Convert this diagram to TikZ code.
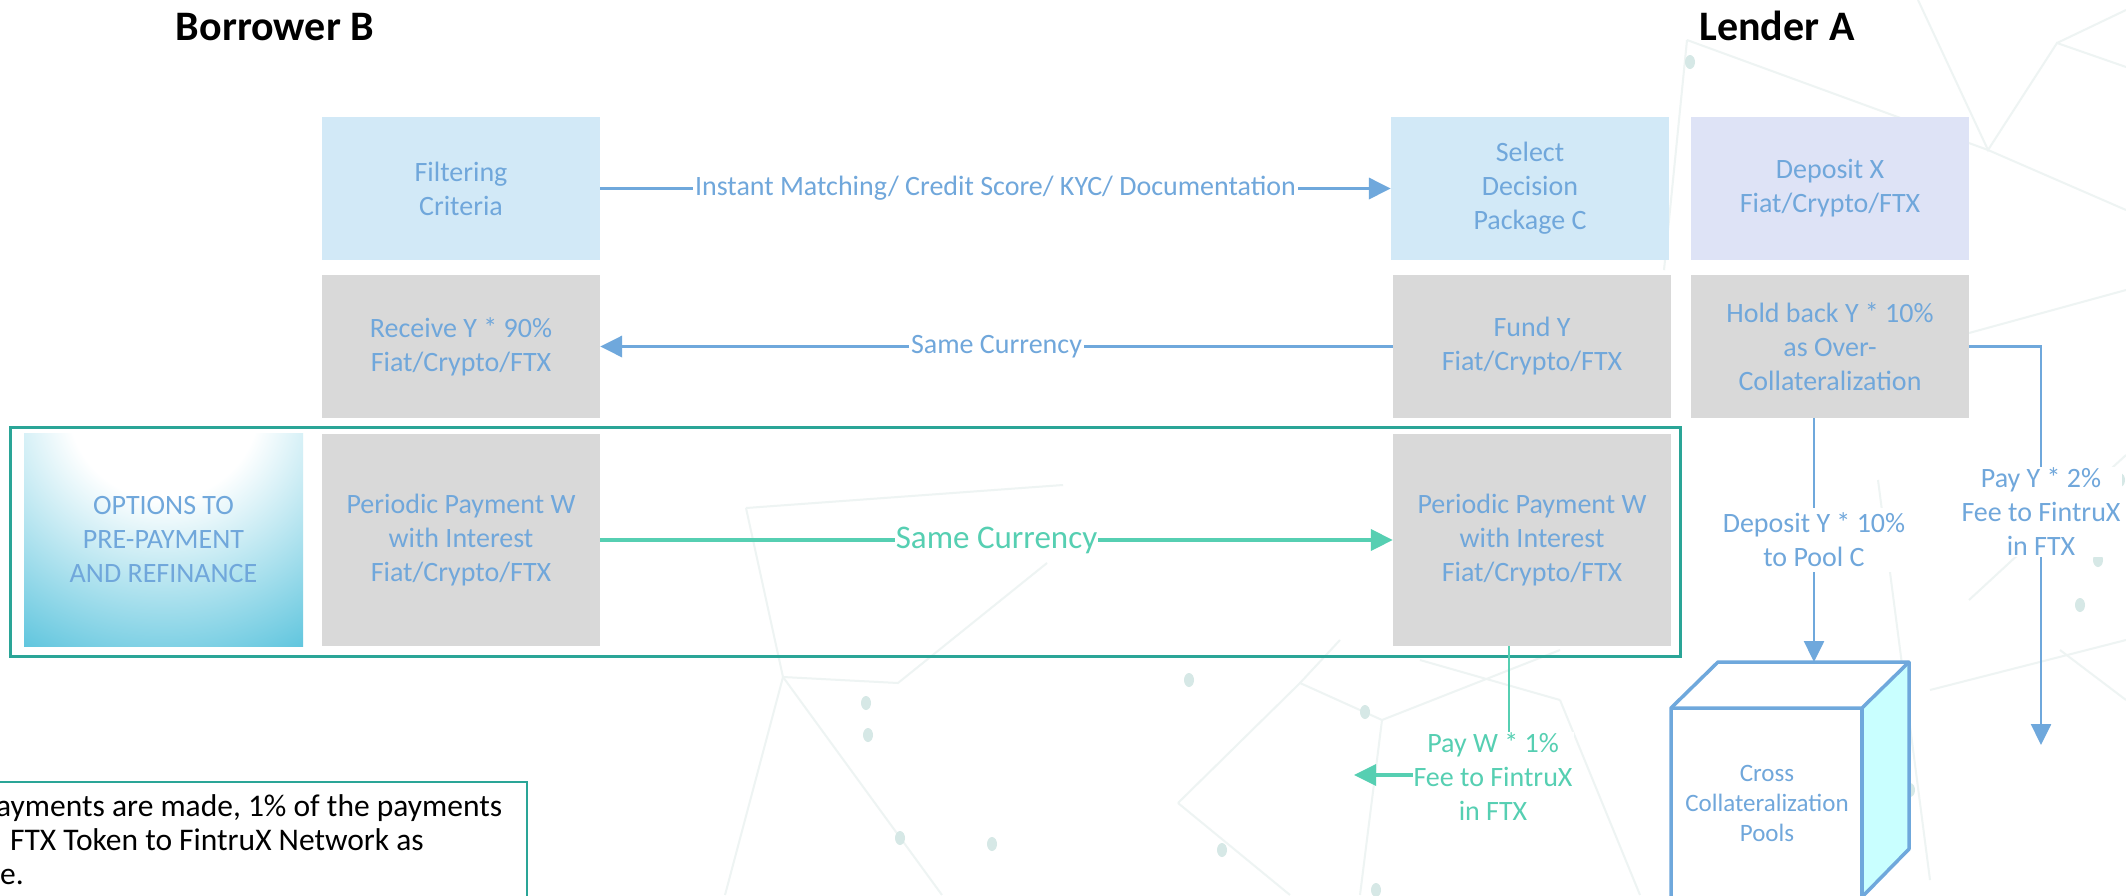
\documentclass[tikz,border=0pt]{standalone}
\usepackage{fontspec}
\setmainfont{Carlito}
\usetikzlibrary{arrows.meta}
\definecolor{txtblue}{RGB}{112,167,219}
\definecolor{lnblue}{RGB}{111,168,220}
\definecolor{grn}{RGB}{86,207,178}
\definecolor{bordteal}{RGB}{42,165,151}
\definecolor{fillblue}{RGB}{210,233,247}
\definecolor{filllav}{RGB}{222,227,246}
\definecolor{fillgray}{RGB}{217,217,217}
\definecolor{optblue}{RGB}{92,196,221}
\definecolor{cubeside}{RGB}{201,255,255}
\definecolor{netline}{RGB}{238,244,243}
\definecolor{netdot}{RGB}{214,232,230}
\pgfdeclareradialshading{optshade}{\pgfpoint{0bp}{0bp}}{color(0bp)=(white); color(95bp)=(white); color(285bp)=(optblue); color(300bp)=(optblue)}
\newcommand{\fsz}[2]{\fontsize{#1}{#2}\selectfont}
\tikzset{
  box/.style={minimum width=278pt, minimum height=143pt, inner sep=0pt, align=center, text=txtblue, font=\fsz{28}{34}},
  tallbox/.style={box, minimum height=212pt},
  title/.style={font=\fsz{42}{50}\bfseries, anchor=base},
  lbl/.style={fill=white, inner sep=2pt, align=center, text=txtblue, font=\fsz{28}{34}},
  glbl/.style={lbl, text=grn},
  bline/.style={draw=lnblue, line width=3.5pt, -{Triangle[length=22pt,width=21pt]}},
  bvline/.style={draw=lnblue, line width=2.5pt, -{Triangle[length=21pt,width=20pt]}},
  gline/.style={draw=grn, line width=4pt, -{Triangle[length=22pt,width=21pt]}},
  gvline/.style={draw=grn, line width=2.5pt},
  net/.style={draw=netline, line width=2pt},
  netdotstyle/.style={fill=netdot, draw=none},
  note/.style={anchor=base west, inner sep=0pt, font=\fsz{31.5}{34}, text=black}
}
\begin{document}
\begin{tikzpicture}[x=1pt,y=-1pt]
\useasboundingbox (0,0) rectangle (2126,895);
\fill[white] (0,0) rectangle (2126,895);
% faint background network
\draw[net] (1687,40)--(1988,150)--(2126,210);
\draw[net] (1918,0)--(1988,150)--(2057,43)--(2126,67);
\draw[net] (2057,43)--(2126,10);
\draw[net] (1687,40)--(1664,270);
\draw[net] (1969,333)--(2126,290);
\draw[net] (1969,600)--(2126,455);
\draw[net] (2060,650)--(2126,700);
\draw[net] (746,508)--(1063,485);
\draw[net] (746,508)--(783,677)--(898,683)--(1047,563);
\draw[net] (783,677)--(725,895);
\draw[net] (783,677)--(942,895);
\draw[net] (1178,803)--(1300,683)--(1382,720)--(1560,650);
\draw[net] (1178,803)--(1290,895);
\draw[net] (1382,720)--(1360,895);
\draw[net] (1300,683)--(1340,640);
\draw[net] (1420,660)--(1560,700);
\draw[net] (1560,700)--(1640,895);
\draw[net] (1878,480)--(1930,880);
\draw[net] (1930,690)--(2126,640);
\foreach \p in {(866,703),(868,735),(900,838),(992,844),(1189,680),(1222,850),(1365,712),(1376,890),(1545,800),(1910,790),(2080,605),(1690,62),(2098,560),(2120,480)}
  \fill[netdotstyle] \p ellipse (5pt and 7pt);
% titles
\node[title] (borrower) at (275,40) {Borrower B};
\node[title] (lender) at (1777,40) {Lender A};
% boxes
\node[box, fill=fillblue] (filt) at (461,188.5) {Filtering\\Criteria};
\node[box, fill=fillblue] (sel) at (1530,188.5) {Select\\Decision\\Package C};
\node[box, fill=filllav] (dep) at (1830,188.5) {Deposit X\\Fiat/Crypto/FTX};
\node[box, fill=fillgray] (recv) at (461,346.5) {Receive Y * 90\%\\Fiat/Crypto/FTX};
\node[box, fill=fillgray] (fund) at (1532,346.5) {Fund Y\\Fiat/Crypto/FTX};
\node[box, fill=fillgray] (hold) at (1830,346.5) {Hold back Y * 10\%\\as Over-\\Collateralization};
\node[tallbox, minimum width=279pt, minimum height=213pt, path picture={\node[inner sep=0pt, outer sep=0pt] (optbg) at ([yshift=30pt]path picture bounding box.north) {\pgfuseshading{optshade}};}] (opt) at (163.5,539.5) {};
\node[box, minimum width=279pt, minimum height=213pt] (optlabel) at (163.5,539.5) {OPTIONS TO\\PRE-PAYMENT\\AND REFINANCE};
\node[tallbox, fill=fillgray] (perL) at (461,540) {Periodic Payment W\\with Interest\\Fiat/Crypto/FTX};
\node[tallbox, fill=fillgray] (perR) at (1532,540) {Periodic Payment W\\with Interest\\Fiat/Crypto/FTX};
% green frame
\draw[bordteal, line width=3pt] (10,427) rectangle (1680,656);
% horizontal connectors
\draw[bline] (filt.east) -- node[lbl] (l1) {Instant Matching/ Credit Score/ KYC/ Documentation} (sel.west);
\draw[bline] (fund.west) -- node[lbl] (l2) {Same Currency} (recv.east);
\draw[gline] (perL.east) -- node[glbl, font=\fsz{33}{38}, inner sep=1pt] (l3) {Same Currency} (perR.west);
% cube
\coordinate (cubetop) at (1814,662);
\fill[white] (1671,708) -- (1718,662) -- (1909,662) -- (1862,708) -- cycle;
\fill[cubeside] (1862,708) -- (1909,662) -- (1909,849) -- (1862,897) -- cycle;
\draw[lnblue, line width=3.5pt, line join=round] (1671,900) -- (1671,708) -- (1718,662) -- (1909,662) -- (1909,849) -- (1862,897);
\draw[lnblue, line width=3.5pt, line join=round] (1671,708) -- (1862,708) -- (1909,662);
\draw[lnblue, line width=3.5pt] (1862,708) -- (1862,900);
\node[align=center, text=txtblue, font=\fsz{25}{30}, inner sep=0pt] (cube) at (1767,803) {Cross\\Collateralization\\Pools};
% hold back -> pool
\coordinate (holdb) at (1814,418);
\draw[bvline] (holdb) -- (cubetop);
\node[lbl, inner sep=5pt] (l4) at (1814,540) {Deposit Y * 10\%\\to Pool C};
% hold back -> fee
\coordinate (hr) at (2041,346.5);
\coordinate (hrend) at (2041,745);
\draw[bvline] (hold.east) -- (hr) -- (hrend);
\node[lbl, inner sep=1pt] (l5) at (2041,512) {Pay Y * 2\%\\Fee to FintruX\\in FTX};
% periodic -> fee
\coordinate (pwtop) at (1509,646);
\coordinate (pwcorner) at (1509,775);
\coordinate (pwend) at (1354,775);
\draw[gvline] (pwtop) -- (pwcorner);
\draw[gline, line width=3.5pt] (pwcorner) -- (pwend);
\node[glbl, inner sep=1pt] (l6) at (1493,777) {Pay W * 1\%\\Fee to FintruX\\in FTX};
% note box
\draw[bordteal, line width=2.5pt] (-5,782) rectangle (527,905);
\node[note] (n1) at (-4,816) {ayments are made, 1\% of the payments};
\node[note] (n2) at (10,850) {FTX Token to FintruX Network as};
\node[note] (n3) at (0,884) {e.};
\end{tikzpicture}
\end{document}
